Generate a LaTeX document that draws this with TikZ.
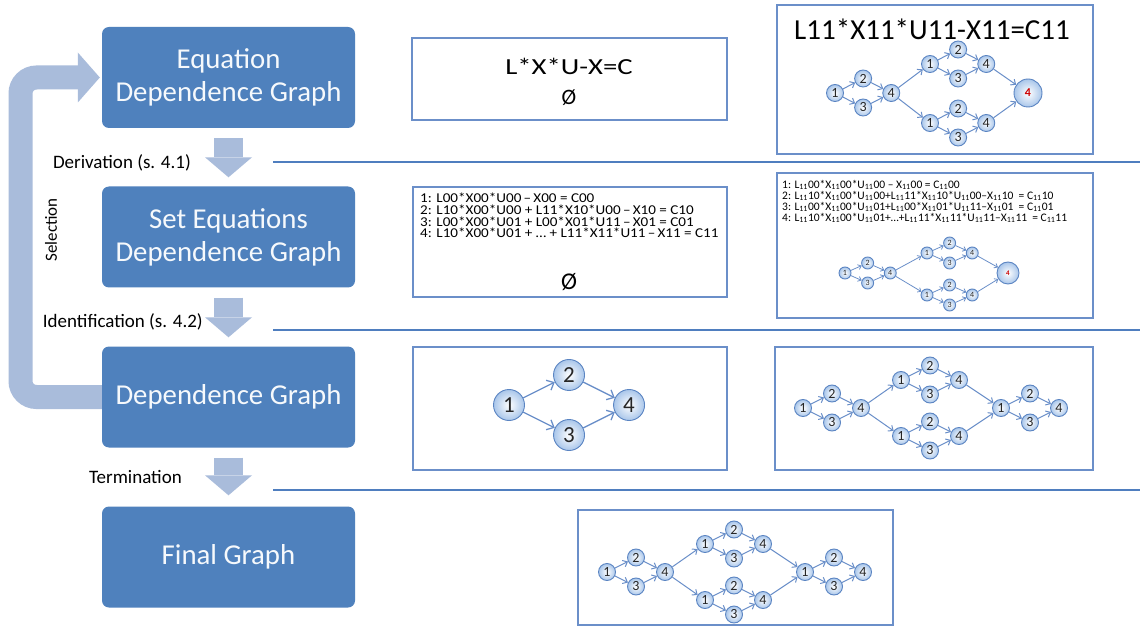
\documentclass[tikz,border=0pt]{standalone}
\usepackage{fontspec}
\setmainfont{Carlito}
\newfontfamily\eqA[FakeStretch=1.12]{Carlito}
\newfontfamily\eqC[FakeStretch=1.25]{Carlito}
\usetikzlibrary{arrows.meta}
\definecolor{boxblue}{HTML}{4F81BD}
\definecolor{arrowblue}{HTML}{A9BCDB}
\definecolor{framec}{HTML}{6B8FC9}
\definecolor{linec}{HTML}{4F7EBF}
\definecolor{nodeB}{HTML}{5A84C2}
\definecolor{nodeF}{HTML}{A9C6EA}
\definecolor{edgeC}{HTML}{6A8FC9}
\newcommand{\fs}[2]{\fontsize{#1pt}{#2pt}\selectfont}
\newcommand{\elv}{\textsubscript{11}}
\tikzset{blk/.pic={
  \node[gnode,gn] (-1) at (0,0) {1};
  \node[gnode,gn] (-2) at (29,-14.5) {2};
  \node[gnode,gn] (-3) at (29,14.5) {3};
  \node[gnode,gn] (-4) at (58,0) {4};
  \draw[gedge,ge] (-1) -- (-2);
  \draw[gedge,ge] (-1) -- (-3);
  \draw[gedge,ge] (-2) -- (-4);
  \draw[gedge,ge] (-3) -- (-4);
}}
\begin{document}
\begin{tikzpicture}[x=1pt,y=-1pt,
  stage/.style={rectangle, rounded corners=7pt, fill=boxblue, text=white!95!boxblue, minimum width=253pt, minimum height=101pt, align=center, font=\fs{28.8}{33}, inner sep=0pt},
  frame/.style={rectangle, draw=framec, line width=2.4pt, fill=white, inner sep=0pt},
  downarr/.style={draw=arrowblue, line width=29pt, -{Triangle[length=20pt,width=47pt,line width=0pt]}},
  fb/.style={draw=arrowblue, line width=24pt, rounded corners=16pt, -{Triangle[length=22pt,width=50pt,line width=0pt]}},
  lab/.style={font=\fs{19}{22}, inner sep=0pt, anchor=east},
  sep/.style={draw=linec, line width=2.6pt},
  gnode/.style={circle, draw=nodeB, line width=0.9pt, inner color=white, outer color=nodeF, inner sep=0pt, text=black!85},
  gedge/.style={draw=edgeC, line width=1.1pt, -{Straight Barb[length=3.5pt,width=7pt]}},
  gn/.style={}, ge/.style={},
]
\useasboundingbox (0,0) rectangle (1140,636);
\fill[white] (0,0) rectangle (1140,636);

% separator lines
\draw[sep] (273,162) -- (1140,162);
\draw[sep] (273,330) -- (1140,330);
\draw[sep] (273,490) -- (1140,490);

% stages
\node[stage] (s1) at (228.5,77.5) {Equation\\Dependence Graph};
\node[stage] (s2) at (228.5,237) {Set Equations\\Dependence Graph};
\node[stage] (s3) at (228.5,397) {Dependence Graph};
\node[stage] (s4) at (228.5,557) {Final Graph};

% down arrows
\draw[downarr] ([yshift=-10pt]s1.south) -- ([yshift=9pt]s2.north);
\draw[downarr] ([yshift=-10pt]s2.south) -- ([yshift=9pt]s3.north);
\draw[downarr] ([yshift=-10pt]s3.south) -- ([yshift=11pt]s4.north);

% feedback
\coordinate (fbx) at (20.5,0);
\draw[fb] (s3.west) -- (s3.west -| fbx) -- (s1.west -| fbx) -- ([xshift=-2pt]s1.west);

% labels
\node[lab] (l1) at (191,163) {Derivation (s. 4.1)};
\node[lab] (l2) at (203,322) {Identification (s. 4.2)};
\node[lab] (l3) at (182,477) {Termination};
\node[font=\fs{17}{17}, rotate=90, inner sep=0pt] (l4) at (51,230) {Selection};

% frames
\node[frame, minimum width=315pt, minimum height=82pt] (r1m) at (569.5,79) {};
\node[frame, minimum width=316pt, minimum height=149pt] (r1r) at (935,79.5) {};
\node[frame, minimum width=314pt, minimum height=110pt] (r2m) at (570,242) {};
\node[frame, minimum width=316pt, minimum height=145pt] (r2r) at (935,245.5) {};
\node[frame, minimum width=314pt, minimum height=123pt] (r3m) at (570,408.5) {};
\node[frame, minimum width=318pt, minimum height=123pt] (r3r) at (934,408.5) {};
\node[frame, minimum width=315pt, minimum height=115pt] (r4) at (735.5,567.5) {};

% row 1 texts
\node[font=\eqC\fs{23}{23}, inner sep=0pt] (t1a) at (569,66) {L*X*U-X=C};
\node[font=\fs{22}{22}, inner sep=0pt] (t1b) at (569,98) {Ø};
\node[font=\fs{29}{29}, inner sep=0pt] (t1c) at (932,29) {L11*X11*U11-X11=C11};

% row 2 texts
\node[anchor=west, align=left, font=\eqA\fs{13.5}{11.7}, inner sep=0pt] (t2a) at (420,215.5)
 {1: L00*X00*U00\,–\,X00 = C00\\
  2: L10*X00*U00 + L11*X10*U00\,–\,X10 = C10\\
  3: L00*X00*U01 + L00*X01*U11\,–\,X01 = C01\\
  4: L10*X00*U01 + … + L11*X11*U11\,–\,X11 = C11};
\node[font=\fs{24}{24}, inner sep=0pt] (t2b) at (569,282) {Ø};
\node[anchor=west, align=left, font=\fs{11.5}{11}, inner sep=0pt] (t2c) at (782,201.5)
 {1: L\elv00*X\elv00*U\elv00 – X\elv00 = C\elv00\\
  2: L\elv10*X\elv00*U\elv00+L\elv11*X\elv10*U\elv00–X\elv10 \ = C\elv10\\
  3: L\elv00*X\elv00*U\elv01+L\elv00*X\elv01*U\elv11–X\elv01 \ = C\elv01\\
  4: L\elv10*X\elv00*U\elv01+…+L\elv11*X\elv11*U\elv11–X\elv11 \ = C\elv11};

% row 1 right graph
\begin{scope}[gn/.style={minimum size=17pt, font=\fs{14}{14}}, ge/.style={line width=1pt, -{Straight Barb[length=4pt,width=7pt]}}]
\pic[xscale=0.97] (GA) at (835,93) {blk};
\pic[xscale=0.97] (GB) at (930,64) {blk};
\pic[xscale=0.97] (GC) at (930,123) {blk};
\node[gnode, minimum size=28pt, font=\bfseries\fs{12}{12}, text=red!80!black] (G4) at (1028,93) {4};
\draw[gedge,ge] (GA-4) -- (GB-1);
\draw[gedge,ge] (GA-4) -- (GC-1);
\draw[gedge,ge] (GB-4) -- (G4);
\draw[gedge,ge] (GC-4) -- (G4);
\end{scope}

% row 2 right graph
\begin{scope}[gn/.style={minimum size=12pt, font=\fs{8}{8}}, ge/.style={line width=0.8pt, -{Straight Barb[length=3pt,width=5pt]}}]
\pic[xscale=0.78, yscale=0.69] (HA) at (845,273) {blk};
\pic[xscale=0.78, yscale=0.69] (HB) at (927,253) {blk};
\pic[xscale=0.78, yscale=0.69] (HC) at (927,295) {blk};
\node[gnode, minimum size=22pt, font=\bfseries\fs{7}{7}, text=red!80!black] (H4) at (1008,273) {4};
\draw[gedge,ge] (HA-4) -- (HB-1);
\draw[gedge,ge] (HA-4) -- (HC-1);
\draw[gedge,ge] (HB-4) -- (H4);
\draw[gedge,ge] (HC-4) -- (H4);
\end{scope}

% row 3 middle graph
\begin{scope}[gn/.style={minimum size=31pt, font=\fs{23}{23}}, ge/.style={line width=1.3pt, -{Straight Barb[length=6pt,width=11pt]}}]
\pic[scale=2.07] (M) at (509,405) {blk};
\end{scope}

% row 3 right graph
\begin{scope}[gn/.style={minimum size=17pt, font=\fs{14}{14}}, ge/.style={line width=1pt, -{Straight Barb[length=4pt,width=7pt]}}]
\pic (PA) at (803,408) {blk};
\pic (PB) at (901,380) {blk};
\pic (PC) at (901,436) {blk};
\pic (PD) at (1001,408) {blk};
\draw[gedge,ge] (PA-4) -- (PB-1);
\draw[gedge,ge] (PA-4) -- (PC-1);
\draw[gedge,ge] (PB-4) -- (PD-1);
\draw[gedge,ge] (PC-4) -- (PD-1);
\end{scope}

% final graph
\begin{scope}[gn/.style={minimum size=17pt, font=\fs{14}{14}}, ge/.style={line width=1pt, -{Straight Barb[length=4pt,width=7pt]}}]
\pic (FA) at (607,572) {blk};
\pic (FB) at (705,544) {blk};
\pic (FC) at (705,600) {blk};
\pic (FD) at (805,572) {blk};
\draw[gedge,ge] (FA-4) -- (FB-1);
\draw[gedge,ge] (FA-4) -- (FC-1);
\draw[gedge,ge] (FB-4) -- (FD-1);
\draw[gedge,ge] (FC-4) -- (FD-1);
\end{scope}
\end{tikzpicture}
\end{document}
